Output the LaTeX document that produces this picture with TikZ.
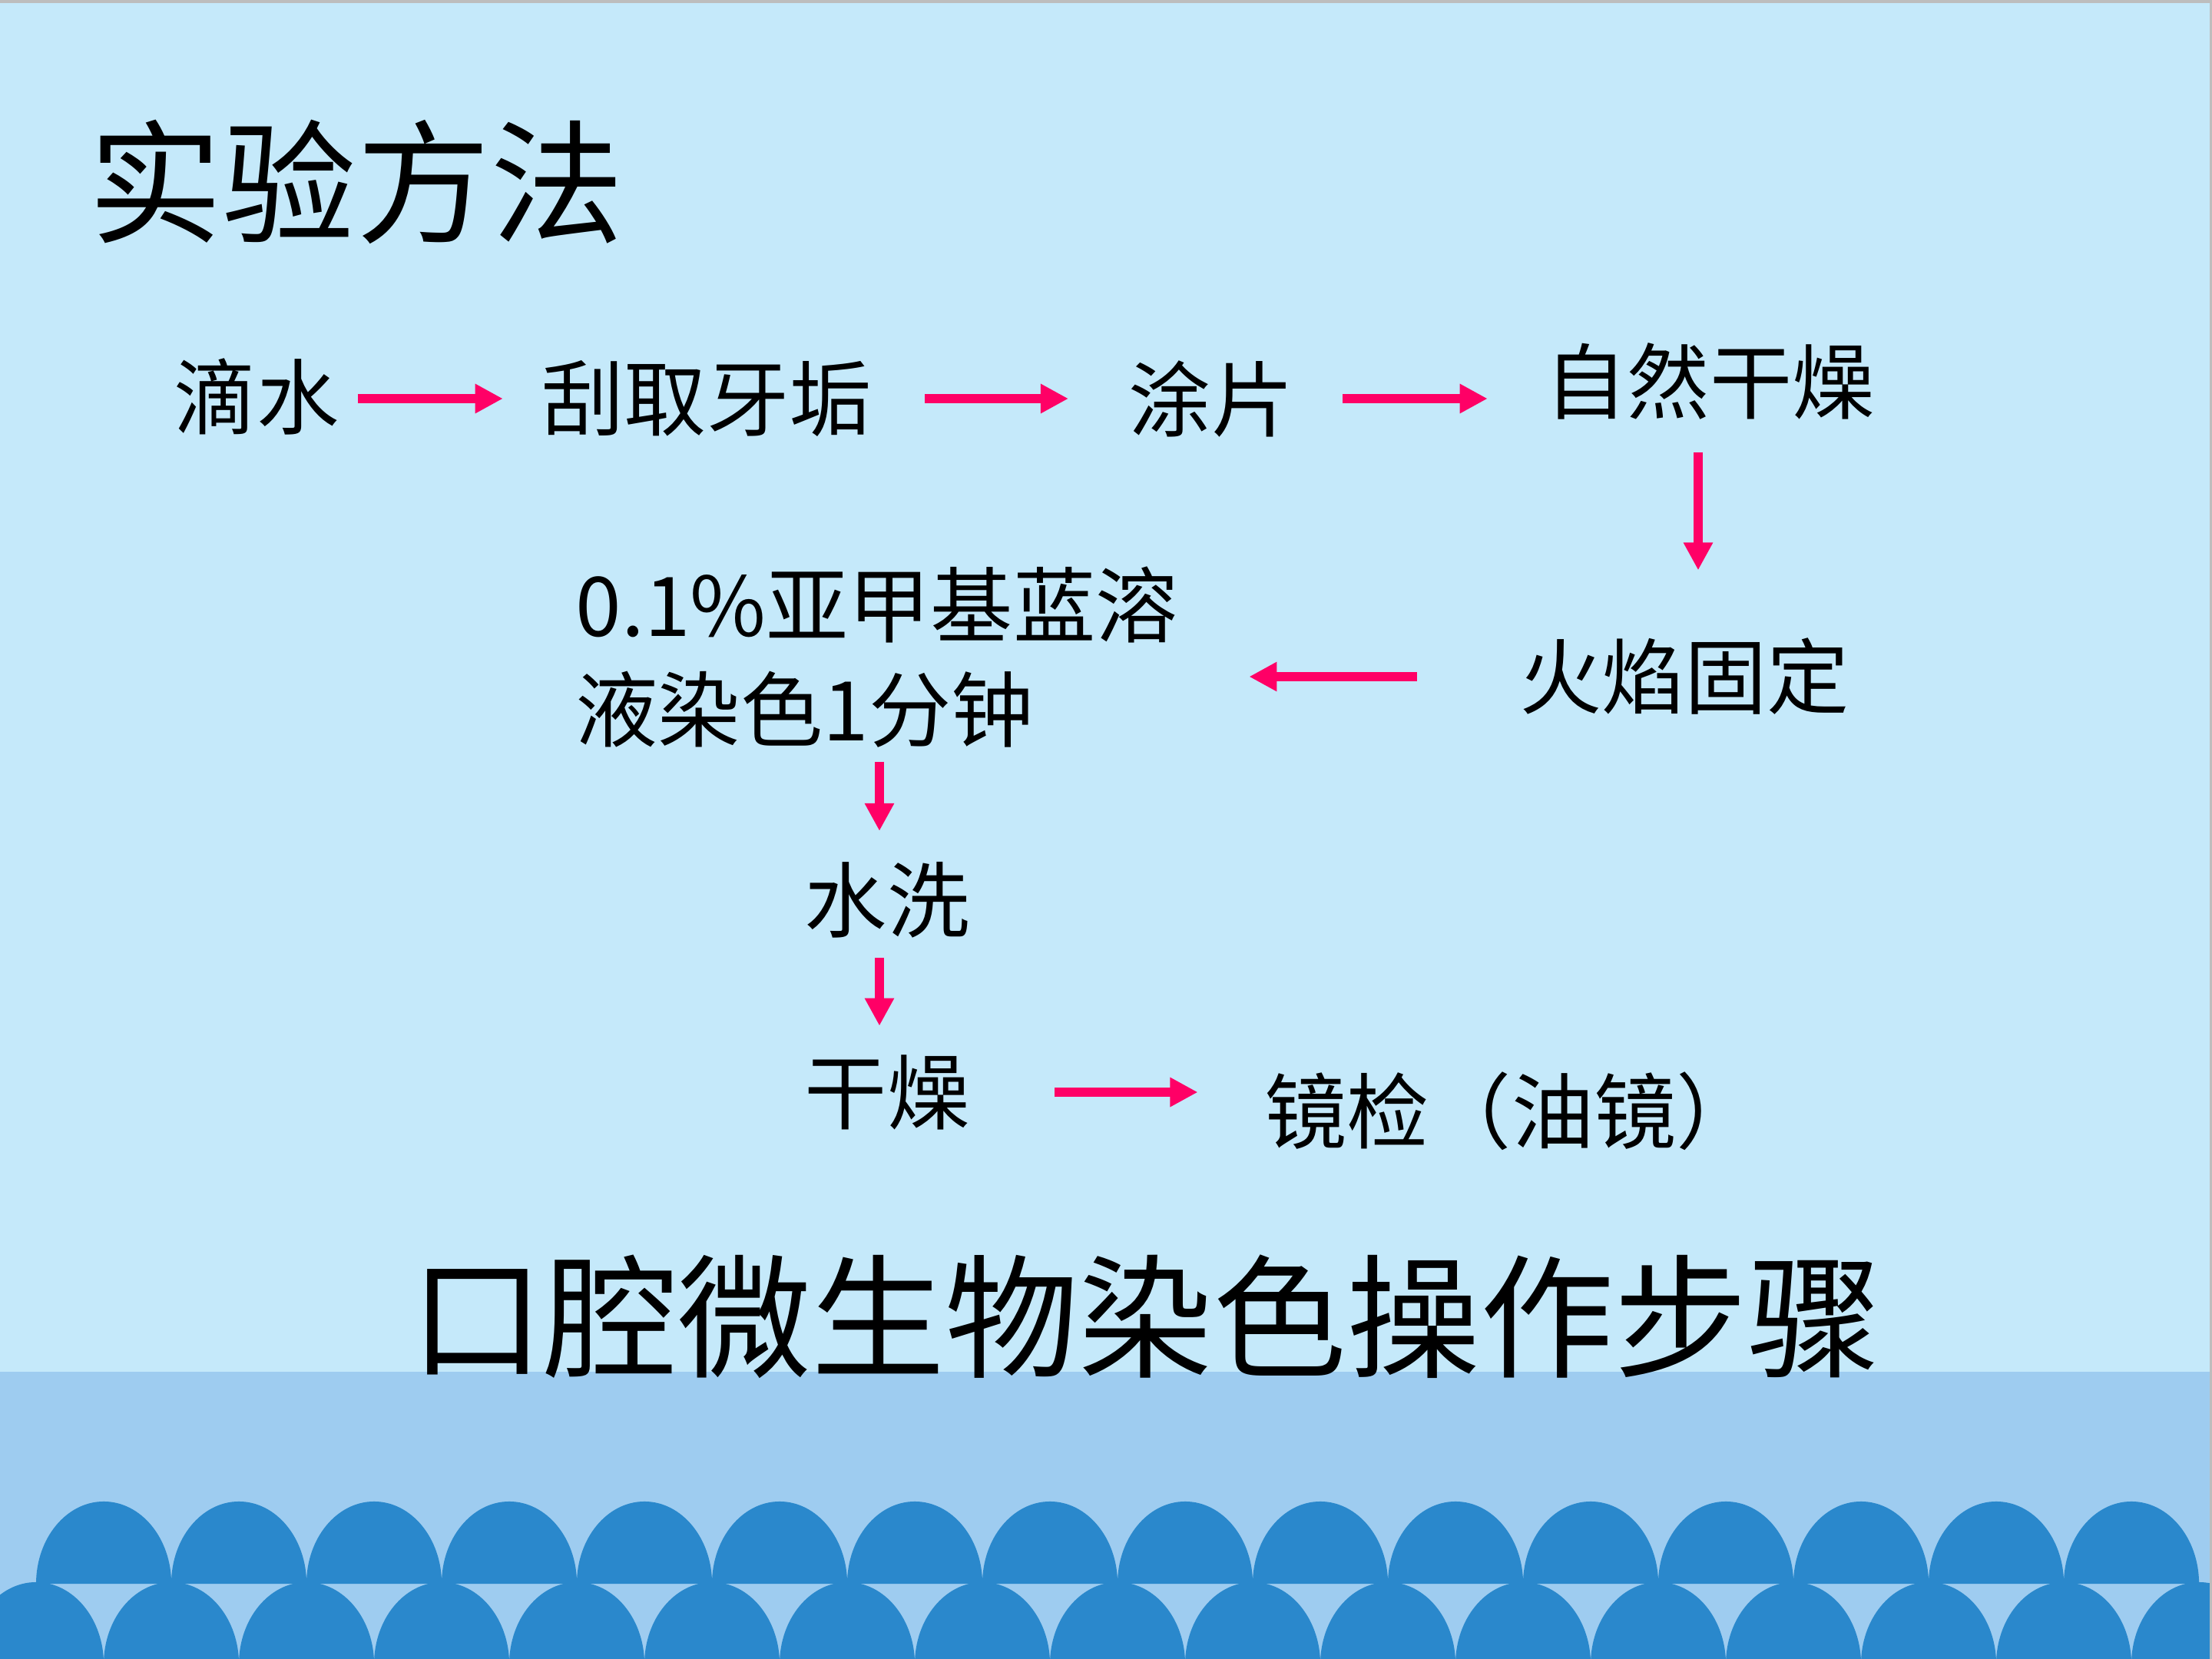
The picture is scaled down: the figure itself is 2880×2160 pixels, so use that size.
\documentclass[tikz,border=0pt]{standalone}
\usepackage{fontspec}
\newfontfamily\cjk{Noto Sans CJK SC}
\usetikzlibrary{arrows.meta}
\definecolor{bgtop}{HTML}{C5E9FA}
\definecolor{band}{HTML}{9ECCF0}
\definecolor{dome}{HTML}{2A88CC}
\definecolor{arrowpink}{HTML}{FF0066}
\definecolor{edgegray}{HTML}{BDBDBD}
\begin{document}
\begin{tikzpicture}[x=0.01cm,y=-0.01cm,
  txt/.style={inner sep=0pt, font=\cjk\fontsize{30.5pt}{38.7pt}\selectfont, text=black},
  bigtxt/.style={inner sep=0pt, font=\cjk\fontsize{49.5pt}{60pt}\selectfont, text=black},
  flow/.style={draw=arrowpink, line width=0.12cm, -{Triangle[length=0.36cm,width=0.36cm]}},
  domeshape/.style={fill=dome}
]
\useasboundingbox (0,0) rectangle (2880,2160);
\fill[bgtop] (0,0) rectangle (2880,2160);
\fill[band] (0,1786) rectangle (2880,2160);
\begin{scope}
  \clip (0,0) rectangle (2880,2160);
  \foreach \k in {0,...,15} {
    \fill[domeshape] ({135+176*\k-88},2062) arc[start angle=180,end angle=0,x radius=0.88cm,y radius=1.07cm] -- cycle;
  }
  \foreach \k in {0,...,16} {
    \fill[domeshape] ({47+176*\k-88},2167) arc[start angle=180,end angle=0,x radius=0.88cm,y radius=1.07cm] -- cycle;
  }
\end{scope}
\fill[edgegray] (0,0) rectangle (2880,4);
\fill[edgegray] (2877,0) rectangle (2880,2160);

\node[bigtxt] (title) at (464,237) {实验方法};
\node[txt] (dishui) at (334,516) {滴水};
\node[txt] (guaqu) at (920,519) {刮取牙垢};
\node[txt] (tupian) at (1577,519) {涂片};
\node[txt] (ziran) at (2226,496) {自然干燥};
\node[txt] (guding) at (2193,881) {火焰固定};
\node[txt, anchor=west, align=left] (ranse) at (749,856) {0.1\%亚甲基蓝溶\\液染色1分钟};
\node[txt] (shuixi) at (1155,1172) {水洗};
\node[txt] (ganzao) at (1155,1422) {干燥};
\node[txt] (jingjian) at (1968,1447) {镜检（油镜）};
\node[bigtxt] (buzhou) at (1492,1714) {口腔微生物染色操作步骤};

\draw[flow, shorten <=0.24cm, shorten >=0.5cm] (guaqu.west -| dishui.east) -- (guaqu.west);
\draw[flow, shorten <=0.69cm, shorten >=0.78cm] (guaqu.east) -- (tupian.west);
\draw[flow, shorten <=0.63cm, shorten >=0.74cm] (tupian.east) -- (tupian.east -| ziran.west);
\draw[flow, shorten <=0.42cm, shorten >=0.88cm] ([xshift=-0.15cm]ziran.south) -- ([xshift=-0.15cm]ziran.south |- guding.north);
\draw[flow, shorten <=1.33cm, shorten >=0.92cm] (guding.west) -- (guding.west -| ranse.east);
\draw[flow, shorten <=0.17cm, shorten >=0.40cm] ([xshift=-0.1cm]shuixi.north |- ranse.south) -- ([xshift=-0.1cm]shuixi.north);
\draw[flow, shorten <=0.25cm, shorten >=0.37cm] ([xshift=-0.1cm]shuixi.south) -- ([xshift=-0.1cm]ganzao.north);
\draw[flow, shorten <=1.10cm, shorten >=0.86cm] (ganzao.east) -- (ganzao.east -| jingjian.west);
\end{tikzpicture}
\end{document}
